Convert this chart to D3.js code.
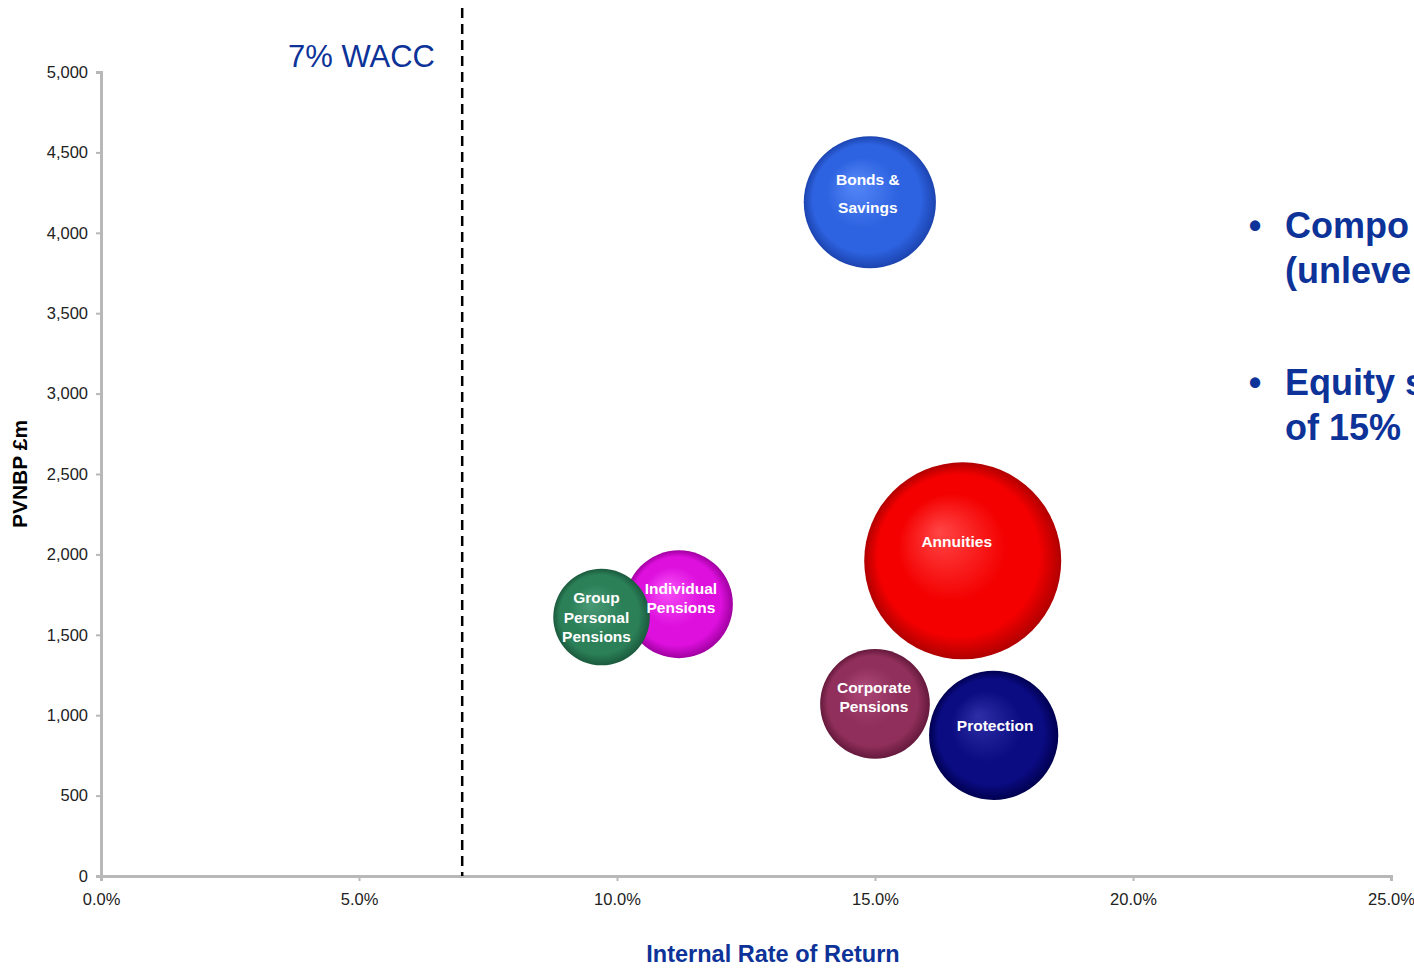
<!DOCTYPE html>
<html>
<head>
<meta charset="utf-8">
<script src="https://cdn.jsdelivr.net/npm/d3@7"></script>
<style>
  html, body { margin: 0; padding: 0; background: #fff; overflow: hidden; }
  svg { display: block; }
</style>
</head>
<body>
<svg id="chart" width="1414" height="968"></svg>
<script>
// ---------- data ----------
const categories = ["Bonds & Savings", "Annuities", "Individual Pensions", "Group Personal Pensions", "Corporate Pensions", "Protection"];
const labelLines = [["Bonds &", "Savings"], ["Annuities"], ["Individual", "Pensions"], ["Group", "Personal", "Pensions"], ["Corporate", "Pensions"], ["Protection"]];
const irrPct = [14.9, 16.7, 11.2, 9.7, 15.0, 17.3];
const pvnbp = [4190, 1960, 1690, 1610, 1070, 875];
const bubbleSize = [45, 100, 30, 24, 31, 43];
const xTicks = [0, 5, 10, 15, 20, 25];
const yTicks = [0, 500, 1000, 1500, 2000, 2500, 3000, 3500, 4000, 4500, 5000];
const waccPct = 7;
const waccLabel = "7% WACC";
const xTitle = "Internal Rate of Return";
const yTitle = "PVNBP £m";
const bullets = [["Compo", "(unleve"], ["Equity s", "of 15%"]];

// ---------- styles / layout ----------
const colors = [
  ["#5688f8", "#2d62e0", "#1c44b0"],
  ["#ff4545", "#f40000", "#b00000"],
  ["#f850f8", "#de10de", "#a000a0"],
  ["#4a9a76", "#2b8058", "#1b5a3d"],
  ["#ad4878", "#902f5b", "#65193c"],
  ["#2e2ea6", "#0b0b82", "#000050"]
];
const labelDx = [-2, -6, 2, -5, -1, 1.5];
const labelDy = [-9, -19.5, -6.5, 0, -6.5, -9.5];
const lineGap = [28, 19, 19, 19.5, 19, 19];
const drawOrder = [0, 1, 2, 3, 4, 5];

const svg = d3.select("#chart");
const m = { left: 101, right: 1391, top: 72, bottom: 876 };
const x = d3.scaleLinear().domain([0, 25]).range([m.left, m.right]);
const y = d3.scaleLinear().domain([0, 5000]).range([m.bottom, m.top]);
const r = d3.scaleSqrt().domain([0, 100]).range([0, 98.5]);

const defs = svg.append("defs");
colors.forEach((c, i) => {
  const g = defs.append("radialGradient").attr("id", "g" + i)
    .attr("cx", 0.5).attr("cy", 0.5).attr("r", 0.5)
    .attr("fx", 0.38).attr("fy", 0.35);
  g.append("stop").attr("offset", "0%").attr("stop-color", c[0]);
  g.append("stop").attr("offset", "55%").attr("stop-color", c[1]);
  g.append("stop").attr("offset", "82%").attr("stop-color", c[1]);
  g.append("stop").attr("offset", "100%").attr("stop-color", c[2]);
});

const axisColor = "#b8b8b8";
const tickFont = "'Liberation Sans', Arial, sans-serif";

// y axis
const yAxis = d3.axisLeft(y).tickValues(yTicks).tickSize(5).tickPadding(8)
  .tickFormat(d3.format(","));
const gy = svg.append("g").attr("transform", `translate(${m.left},0)`).call(yAxis);
gy.select(".domain").attr("stroke", axisColor).attr("stroke-width", 3);
gy.selectAll(".tick line").attr("stroke", axisColor).attr("stroke-width", 2);
gy.selectAll(".tick text").attr("fill", "#222").attr("font-size", 16.5)
  .attr("font-family", tickFont);

// x axis
const xAxis = d3.axisBottom(x).tickValues(xTicks).tickSize(5).tickPadding(12)
  .tickFormat(d => d3.format(".1f")(d) + "%");
const gx = svg.append("g").attr("transform", `translate(0,${m.bottom})`).call(xAxis);
gx.select(".domain").attr("stroke", axisColor).attr("stroke-width", 3);
gx.selectAll(".tick line").attr("stroke", axisColor).attr("stroke-width", 2);
gx.selectAll(".tick text").attr("fill", "#222").attr("font-size", 16.5)
  .attr("font-family", tickFont);

// WACC line
svg.append("line")
  .attr("x1", x(waccPct)).attr("x2", x(waccPct))
  .attr("y1", 8).attr("y2", m.bottom)
  .attr("stroke", "#000").attr("stroke-width", 2.5)
  .attr("stroke-dasharray", "10,6");
svg.append("text").text(waccLabel)
  .attr("x", 435).attr("y", 67).attr("text-anchor", "end")
  .attr("font-family", tickFont).attr("font-size", 31)
  .attr("fill", "#0d3399");

// bubbles
const data = drawOrder.map(i => ({
  i, name: categories[i], x: irrPct[i], y: pvnbp[i], s: bubbleSize[i], lines: labelLines[i]
}));
const gb = svg.append("g");
gb.selectAll("circle").data(data).join("circle")
  .attr("cx", d => x(d.x)).attr("cy", d => y(d.y)).attr("r", d => r(d.s))
  .attr("fill", d => `url(#g${d.i})`);

const gl = svg.append("g");
data.forEach(d => {
  const n = d.lines.length;
  const gap = lineGap[d.i];
  d.lines.forEach((ln, k) => {
    gl.append("text").text(ln)
      .attr("x", x(d.x) + labelDx[d.i])
      .attr("y", y(d.y) + labelDy[d.i] + (k - (n - 1) / 2) * gap)
      .attr("text-anchor", "middle").attr("dominant-baseline", "central")
      .attr("font-family", tickFont).attr("font-weight", "bold")
      .attr("font-size", 15.5).attr("fill", "#fff");
  });
});

// axis titles
svg.append("text").text(xTitle)
  .attr("x", 773).attr("y", 962).attr("text-anchor", "middle")
  .attr("font-family", tickFont).attr("font-weight", "bold").attr("font-size", 23.5)
  .attr("fill", "#0d3399");
svg.append("text").text(yTitle)
  .attr("transform", "translate(27,474) rotate(-90)")
  .attr("text-anchor", "middle")
  .attr("font-family", tickFont).attr("font-weight", "bold").attr("font-size", 21)
  .attr("fill", "#000");

// bullets on the right
const bulletY = [225, 382];
bullets.forEach((lines, b) => {
  svg.append("text").text("•")
    .attr("x", 1255).attr("y", bulletY[b]).attr("text-anchor", "middle").attr("dominant-baseline", "central")
    .attr("font-family", tickFont).attr("font-weight", "bold").attr("font-size", 36).attr("fill", "#0d3399");
  lines.forEach((ln, k) => {
    svg.append("text").text(ln)
      .attr("x", 1285).attr("y", bulletY[b] + k * 45).attr("dominant-baseline", "central")
      .attr("font-family", tickFont).attr("font-weight", "bold").attr("font-size", 36).attr("fill", "#0d3399");
  });
});
</script>
</body>
</html>
